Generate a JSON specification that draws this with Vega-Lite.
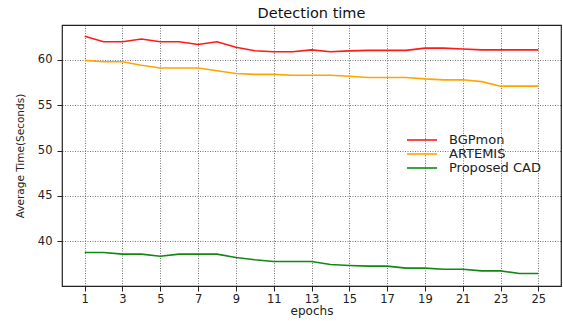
{
  "$schema": "https://vega.github.io/schema/vega-lite/v6.json",
  "width": 499,
  "height": 261,
  "autosize": {"type": "none"},
  "padding": {"left": 62, "top": 25, "right": 2, "bottom": 35},
  "background": "white",
  "title": {"text": "Detection time", "font": "DejaVu Sans", "fontSize": 14.5, "fontWeight": "normal", "color": "#111", "offset": 4},
  "config": {
    "view": {"stroke": "#222", "strokeWidth": 1.2},
    "axis": {"labelFont": "DejaVu Sans", "titleFont": "DejaVu Sans", "labelColor": "#222", "titleColor": "#222", "labelFontSize": 11.5, "titleFontSize": 12, "titleFontWeight": "normal", "domain": false, "tickColor": "#222", "tickSize": 5, "gridColor": "#333", "gridDash": [1, 1.5], "gridOpacity": 0.75, "gridWidth": 0.9}
  },
  "data": {"values": [
    {"epoch":1,"method":"BGPmon","time":62.6},{"epoch":2,"method":"BGPmon","time":62.0},{"epoch":3,"method":"BGPmon","time":62.0},{"epoch":4,"method":"BGPmon","time":62.3},{"epoch":5,"method":"BGPmon","time":62.0},{"epoch":6,"method":"BGPmon","time":62.0},{"epoch":7,"method":"BGPmon","time":61.7},{"epoch":8,"method":"BGPmon","time":62.0},{"epoch":9,"method":"BGPmon","time":61.4},{"epoch":10,"method":"BGPmon","time":61.0},{"epoch":11,"method":"BGPmon","time":60.9},{"epoch":12,"method":"BGPmon","time":60.9},{"epoch":13,"method":"BGPmon","time":61.1},{"epoch":14,"method":"BGPmon","time":60.9},{"epoch":15,"method":"BGPmon","time":61.0},{"epoch":16,"method":"BGPmon","time":61.05},{"epoch":17,"method":"BGPmon","time":61.05},{"epoch":18,"method":"BGPmon","time":61.05},{"epoch":19,"method":"BGPmon","time":61.3},{"epoch":20,"method":"BGPmon","time":61.3},{"epoch":21,"method":"BGPmon","time":61.2},{"epoch":22,"method":"BGPmon","time":61.1},{"epoch":23,"method":"BGPmon","time":61.1},{"epoch":24,"method":"BGPmon","time":61.1},{"epoch":25,"method":"BGPmon","time":61.1},
    {"epoch":1,"method":"ARTEMIS","time":59.95},{"epoch":2,"method":"ARTEMIS","time":59.8},{"epoch":3,"method":"ARTEMIS","time":59.8},{"epoch":4,"method":"ARTEMIS","time":59.4},{"epoch":5,"method":"ARTEMIS","time":59.1},{"epoch":6,"method":"ARTEMIS","time":59.1},{"epoch":7,"method":"ARTEMIS","time":59.1},{"epoch":8,"method":"ARTEMIS","time":58.8},{"epoch":9,"method":"ARTEMIS","time":58.5},{"epoch":10,"method":"ARTEMIS","time":58.4},{"epoch":11,"method":"ARTEMIS","time":58.4},{"epoch":12,"method":"ARTEMIS","time":58.3},{"epoch":13,"method":"ARTEMIS","time":58.3},{"epoch":14,"method":"ARTEMIS","time":58.3},{"epoch":15,"method":"ARTEMIS","time":58.2},{"epoch":16,"method":"ARTEMIS","time":58.05},{"epoch":17,"method":"ARTEMIS","time":58.05},{"epoch":18,"method":"ARTEMIS","time":58.05},{"epoch":19,"method":"ARTEMIS","time":57.9},{"epoch":20,"method":"ARTEMIS","time":57.8},{"epoch":21,"method":"ARTEMIS","time":57.8},{"epoch":22,"method":"ARTEMIS","time":57.6},{"epoch":23,"method":"ARTEMIS","time":57.1},{"epoch":24,"method":"ARTEMIS","time":57.1},{"epoch":25,"method":"ARTEMIS","time":57.1},
    {"epoch":1,"method":"Proposed CAD","time":38.75},{"epoch":2,"method":"Proposed CAD","time":38.75},{"epoch":3,"method":"Proposed CAD","time":38.57},{"epoch":4,"method":"Proposed CAD","time":38.57},{"epoch":5,"method":"Proposed CAD","time":38.34},{"epoch":6,"method":"Proposed CAD","time":38.57},{"epoch":7,"method":"Proposed CAD","time":38.57},{"epoch":8,"method":"Proposed CAD","time":38.57},{"epoch":9,"method":"Proposed CAD","time":38.2},{"epoch":10,"method":"Proposed CAD","time":37.94},{"epoch":11,"method":"Proposed CAD","time":37.76},{"epoch":12,"method":"Proposed CAD","time":37.76},{"epoch":13,"method":"Proposed CAD","time":37.76},{"epoch":14,"method":"Proposed CAD","time":37.42},{"epoch":15,"method":"Proposed CAD","time":37.31},{"epoch":16,"method":"Proposed CAD","time":37.24},{"epoch":17,"method":"Proposed CAD","time":37.24},{"epoch":18,"method":"Proposed CAD","time":37.02},{"epoch":19,"method":"Proposed CAD","time":37.02},{"epoch":20,"method":"Proposed CAD","time":36.9},{"epoch":21,"method":"Proposed CAD","time":36.9},{"epoch":22,"method":"Proposed CAD","time":36.72},{"epoch":23,"method":"Proposed CAD","time":36.72},{"epoch":24,"method":"Proposed CAD","time":36.43},{"epoch":25,"method":"Proposed CAD","time":36.43}
  ]},
  "mark": {"type": "line", "strokeWidth": 1.6, "clip": true},
  "encoding": {
    "x": {"field": "epoch", "type": "quantitative", "title": "epochs",
      "scale": {"domain": [-0.2, 26.2], "nice": false, "zero": false},
      "axis": {"values": [1,3,5,7,9,11,13,15,17,19,21,23,25], "titlePadding": 1, "labelPadding": 2}},
    "y": {"field": "time", "type": "quantitative", "title": "Average Time(Seconds)",
      "scale": {"domain": [35.05, 63.85], "nice": false, "zero": false},
      "axis": {"values": [40,45,50,55,60], "titlePadding": 12, "labelPadding": 5, "titleFontSize": 10.5}},
    "color": {"field": "method", "type": "nominal",
      "scale": {"domain": ["BGPmon", "ARTEMIS", "Proposed CAD"], "range": ["#ff1a1a", "#ffa500", "#118811"]},
      "legend": {"title": null, "orient": "none", "legendX": 344, "legendY": 108, "symbolType": "stroke", "symbolSize": 900, "symbolStrokeWidth": 1.6, "clipHeight": 14, "labelFont": "DejaVu Sans", "labelFontSize": 13, "labelColor": "#222", "rowPadding": 0, "labelOffset": 11}
    }
  }
}
